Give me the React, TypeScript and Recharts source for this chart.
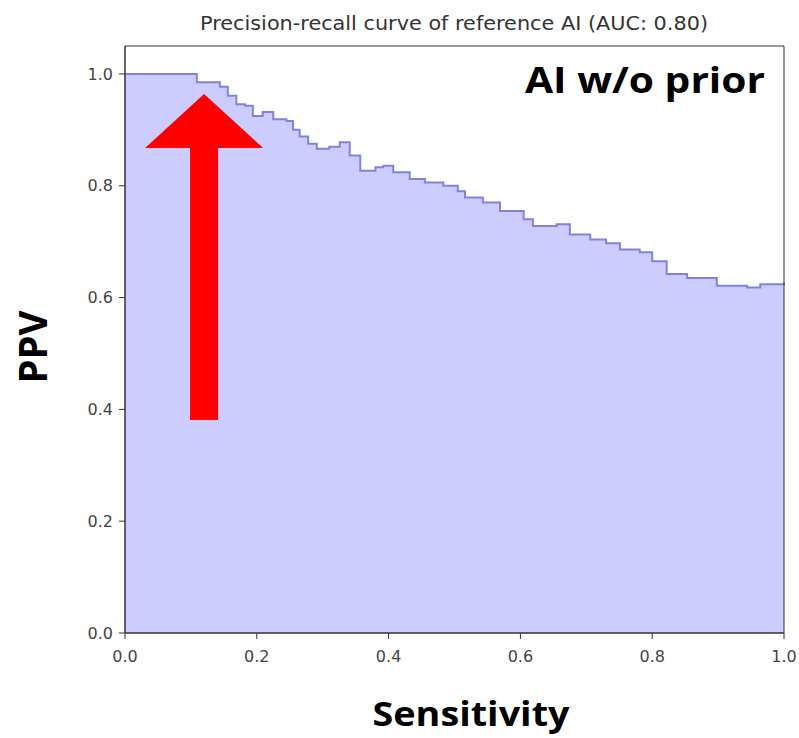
import React from 'react';
import {
  ComposedChart,
  Area,
  XAxis,
  YAxis,
  ReferenceArea,
  ReferenceLine,
} from 'recharts';

// Precision-recall curve (step, post)
const recall = [
  0.0, 0.109, 0.144, 0.156, 0.169, 0.182, 0.194, 0.209, 0.225, 0.245, 0.255,
  0.265, 0.278, 0.291, 0.31, 0.326, 0.341, 0.357, 0.38, 0.392, 0.407, 0.432,
  0.455, 0.483, 0.505, 0.516, 0.543, 0.569, 0.589, 0.605, 0.619, 0.655, 0.675,
  0.706, 0.73, 0.751, 0.781, 0.8, 0.822, 0.853, 0.898, 0.944, 0.964, 1.0,
];
const precision = [
  1.0, 0.985, 0.977, 0.961, 0.946, 0.943, 0.925, 0.932, 0.919, 0.916, 0.9,
  0.888, 0.875, 0.866, 0.87, 0.878, 0.854, 0.827, 0.833, 0.836, 0.824, 0.812,
  0.806, 0.8, 0.79, 0.779, 0.77, 0.755, 0.755, 0.74, 0.728, 0.731, 0.713,
  0.704, 0.697, 0.686, 0.681, 0.665, 0.642, 0.635, 0.621, 0.618, 0.624, 0.627,
];

const xTicks = [0, 0.2, 0.4, 0.6, 0.8, 1.0];
const yTicks = [0, 0.2, 0.4, 0.6, 0.8, 1.0];

const data = recall.map((r, i) => ({ recall: r, precision: precision[i] }));

const tickStyle = { fontFamily: 'DejaVu Sans', fontSize: 16, fill: '#444' };

// Big red arrow drawn from the segment end points
const Arrow = (props: any) => {
  const { x1, y1, x2, y2 } = props;
  const x = (x1 + x2) / 2;
  const bottom = Math.max(y1, y2);
  const tip = Math.min(y1, y2);
  const headBase = tip + 54;
  const shaft = 14;
  const head = 59;
  const d = `M${x - shaft},${bottom} L${x - shaft},${headBase} L${x - head},${headBase} L${x},${tip} L${x + head},${headBase} L${x + shaft},${headBase} L${x + shaft},${bottom} Z`;
  return <path d={d} fill="#ff0000" />;
};

export default function App() {
  return (
    <div style={{ position: 'absolute', left: 0, top: 0, background: '#fff' }}>
      <ComposedChart
        width={799}
        height={738}
        data={data}
        margin={{ top: 46, right: 15, bottom: 65, left: 65 }}
      >
        <XAxis
          dataKey="recall"
          type="number"
          domain={[0, 1]}
          ticks={xTicks}
          tickFormatter={(v: number) => v.toFixed(1)}
          tick={tickStyle}
          tickMargin={12}
          stroke="#333"
          height={40}
        />
        <YAxis
          type="number"
          domain={[0, 1.05]}
          ticks={yTicks}
          tickFormatter={(v: number) => v.toFixed(1)}
          tick={tickStyle}
          tickMargin={6}
          stroke="#333"
          width={60}
          allowDataOverflow
        />
        <Area
          type="stepAfter"
          dataKey="precision"
          stroke="#8080e6"
          strokeWidth={2}
          fill="#ccccff"
          fillOpacity={1}
          isAnimationActive={false}
          dot={false}
          activeDot={false}
        />
        <ReferenceArea
          x1={0}
          x2={1}
          y1={0}
          y2={1.05}
          fill="none"
          stroke="#333"
          strokeWidth={1}
        />
        <ReferenceLine
          segment={[
            { x: 0.12, y: 0.381 },
            { x: 0.12, y: 0.964 },
          ]}
          shape={Arrow}
        />
        <text
          x={454}
          y={30}
          textAnchor="middle"
          fontFamily="DejaVu Sans"
          fontSize={20}
          textLength={508}
          lengthAdjust="spacingAndGlyphs"
          fill="#333"
        >
          Precision-recall curve of reference AI (AUC: 0.80)
        </text>
        <text
          x={525}
          y={93}
          fontFamily="Open Sans"
          fontWeight={700}
          fontSize={36}
          textLength={240}
          lengthAdjust="spacingAndGlyphs"
          fill="#000"
        >
          AI w/o prior
        </text>
        <text
          x={471}
          y={726}
          textAnchor="middle"
          fontFamily="Open Sans"
          fontWeight={700}
          fontSize={34}
          textLength={197}
          lengthAdjust="spacingAndGlyphs"
          fill="#000"
        >
          Sensitivity
        </text>
        <text
          x={47}
          y={347}
          textAnchor="middle"
          transform="rotate(-90, 47, 347)"
          fontFamily="Open Sans"
          fontWeight={700}
          fontSize={40}
          textLength={73}
          lengthAdjust="spacingAndGlyphs"
          fill="#000"
        >
          PPV
        </text>
      </ComposedChart>
    </div>
  );
}
